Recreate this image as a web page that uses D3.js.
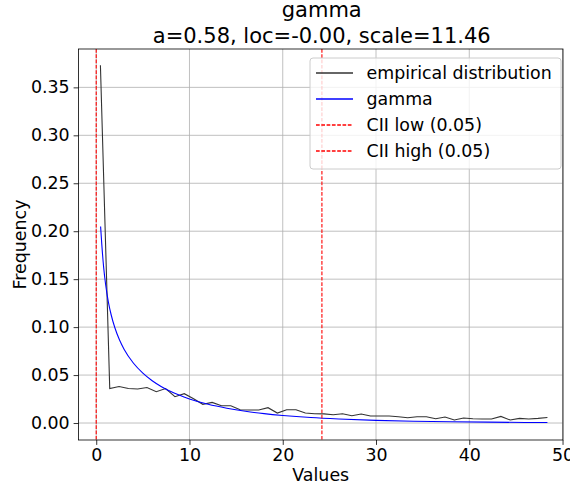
<!DOCTYPE html>
<html><head><meta charset="utf-8">
<script src="https://cdn.jsdelivr.net/npm/d3@7"></script>
<style>body{margin:0;background:#fff}svg{display:block;font-family:"DejaVu Sans",sans-serif}</style>
</head><body><svg id="c" width="570" height="487"></svg>
<script>
const empX = [0.45,1.45,2.45,3.45,4.44,5.44,6.44,7.44,8.44,9.44,10.44,11.43,12.43,13.43,14.43,15.43,16.43,17.43,18.42,19.42,20.42,21.42,22.42,23.42,24.42,25.41,26.41,27.41,28.41,29.41,30.41,31.41,32.40,33.40,34.40,35.40,36.40,37.40,38.40,39.39,40.39,41.39,42.39,43.39,44.39,45.39,46.38,47.38,48.38];
const empY = [0.373,0.036,0.038,0.036,0.0355,0.037,0.0327,0.036,0.0275,0.0306,0.0254,0.0195,0.0215,0.018,0.018,0.0139,0.0136,0.0136,0.016,0.0104,0.0139,0.0139,0.0104,0.0097,0.0095,0.0087,0.0097,0.0076,0.0094,0.0073,0.0073,0.0073,0.0066,0.0055,0.0066,0.0066,0.0045,0.0062,0.0031,0.0052,0.0045,0.0042,0.0042,0.0069,0.0031,0.0048,0.0042,0.0048,0.0058];
const pdfX = [0.47,0.6,0.8,1.0,1.3,1.6,2.0,2.5,3,4,5,6,7,8,10,12,14,16,18,20,23,26,30,34,38,42,46,48.38];
const pdfY = [0.205,0.186,0.162,0.145,0.1264,0.1129,0.0993,0.0865,0.0767,0.0623,0.052,0.0441,0.0379,0.0328,0.0251,0.0195,0.0154,0.0122,0.0098,0.0079,0.0057,0.0042,0.0028,0.0019,0.0013,0.0009,0.0006,0.0005];
const ciiLow = 0.0, ciiHigh = 24.2;
const xTicks = [0,10,20,30,40,50];
const yTicks = [0,0.05,0.10,0.15,0.20,0.25,0.30,0.35];
const titleLines = ["gamma","a=0.58, loc=-0.00, scale=11.46"];
const legendItems = [
  {label:"empirical distribution", color:"#333333", dash:null},
  {label:"gamma", color:"#0000ff", dash:null},
  {label:"CII low (0.05)", color:"#ff0000", dash:"3.7,1.6"},
  {label:"CII high (0.05)", color:"#ff0000", dash:"3.7,1.6"}
];

const svg = d3.select("#c");
const L=78.5, R=563, T=49, B=440;
const x = d3.scaleLinear().domain([-1.9,50.05]).range([L,R]);
const y = d3.scaleLinear().domain([-0.0177,0.390]).range([B,T]);
const fs = 17.4;

// grid
const g = svg.append("g");
g.selectAll(".gx").data(xTicks).join("line")
  .attr("x1",d=>x(d)).attr("x2",d=>x(d)).attr("y1",T).attr("y2",B)
  .attr("stroke","#b0b0b0").attr("stroke-width",0.8);
g.selectAll(".gy").data(yTicks).join("line")
  .attr("y1",d=>y(d)).attr("y2",d=>y(d)).attr("x1",L).attr("x2",R)
  .attr("stroke","#b0b0b0").attr("stroke-width",0.8);

// axes
const xa = svg.append("g").attr("transform",`translate(0,${B})`)
  .call(d3.axisBottom(x).tickValues(xTicks).tickSize(4.9).tickPadding(4).tickFormat(d3.format("d")));
const ya = svg.append("g").attr("transform",`translate(${L},0)`)
  .call(d3.axisLeft(y).tickValues(yTicks).tickSize(4.9).tickPadding(4).tickFormat(d3.format(".2f")));
[xa,ya].forEach(a=>{
  a.select(".domain").remove();
  a.selectAll("text").attr("font-size",fs).attr("font-family","DejaVu Sans").attr("fill","#000");
  a.selectAll("line").attr("stroke","#000").attr("stroke-width",0.8);
});

// clip
svg.append("clipPath").attr("id","clip").append("rect").attr("x",L).attr("y",T).attr("width",R-L).attr("height",B-T);
const plot = svg.append("g").attr("clip-path","url(#clip)");

const empData = empX.map((v,i)=>[v,empY[i]]);
const pdfData = pdfX.map((v,i)=>[v,pdfY[i]]);
plot.append("path").datum(empData)
  .attr("d",d3.line().x(d=>x(d[0])).y(d=>y(d[1])))
  .attr("fill","none").attr("stroke","#333333").attr("stroke-width",1.1);
plot.append("path").datum(pdfData)
  .attr("d",d3.line().curve(d3.curveMonotoneX).x(d=>x(d[0])).y(d=>y(d[1])))
  .attr("fill","none").attr("stroke","#0000ff").attr("stroke-width",1.1);
plot.selectAll(".cii").data([ciiLow,ciiHigh]).join("line")
  .attr("x1",d=>x(d)).attr("x2",d=>x(d)).attr("y1",T).attr("y2",B)
  .attr("stroke","#ff0000").attr("stroke-width",1.1).attr("stroke-dasharray","3.7,1.6");

// spines
svg.append("rect").attr("x",L).attr("y",T).attr("width",R-L).attr("height",B-T)
  .attr("fill","none").attr("stroke","#000").attr("stroke-width",0.8);

// title
svg.selectAll(".title").data(titleLines).join("text")
  .attr("x",(L+R)/2+1).attr("y",(d,i)=>17+i*26).attr("text-anchor","middle")
  .attr("font-size",21).attr("fill","#000").text(d=>d);

// axis labels
svg.append("text").attr("x",(L+R)/2).attr("y",481).attr("text-anchor","middle")
  .attr("font-size",fs).text("Values");
svg.append("text").attr("transform",`translate(25.5,${(T+B)/2}) rotate(-90)`)
  .attr("text-anchor","middle").attr("font-size",fs).text("Frequency");

// legend
const lg = svg.append("g");
lg.append("rect").attr("x",310).attr("y",58).attr("width",251).attr("height",111)
  .attr("rx",3).attr("fill","#fff").attr("fill-opacity",0.8)
  .attr("stroke","#cccccc").attr("stroke-width",1);
const rowY = [73,99,125,151];
lg.selectAll(".lline").data(legendItems).join("line")
  .attr("x1",316).attr("x2",353).attr("y1",(d,i)=>rowY[i]).attr("y2",(d,i)=>rowY[i])
  .style("stroke",d=>d.color).style("stroke-width","1.3px")
  .style("stroke-dasharray",d=>d.dash||"none");
lg.selectAll(".ltext").data(legendItems).join("text")
  .attr("x",366.5).attr("y",(d,i)=>rowY[i]+6).attr("font-size",fs).text(d=>d.label);
</script></body></html>
